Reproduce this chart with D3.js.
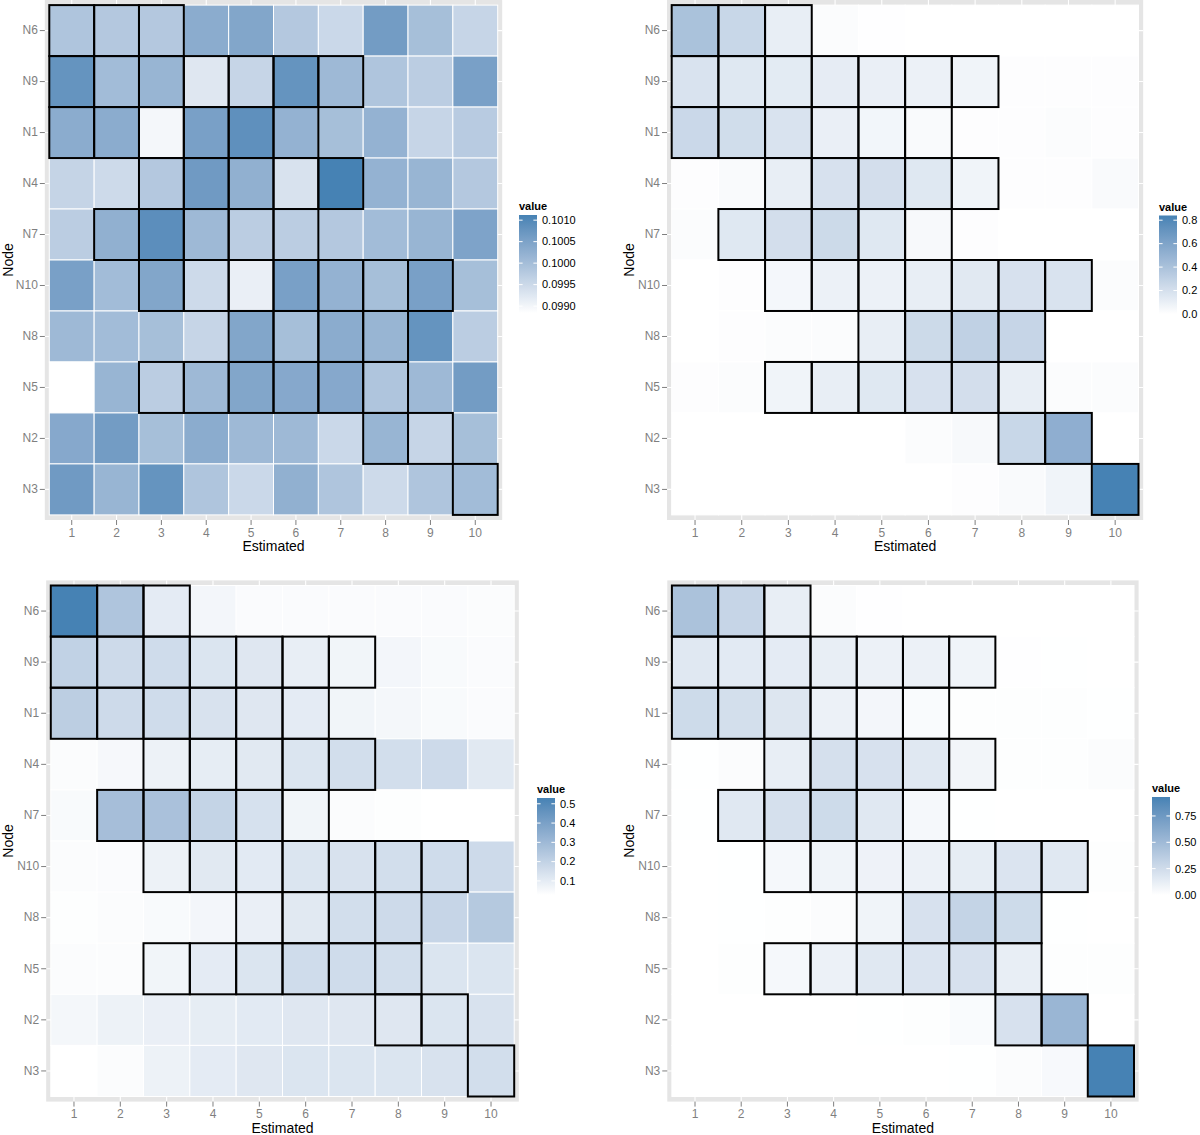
<!DOCTYPE html>
<html><head><meta charset="utf-8">
<script src="https://cdn.jsdelivr.net/npm/d3@7"></script>
<style>
body{margin:0;background:#fff}
text{font-family:"Liberation Sans",Arial,Helvetica,sans-serif}
</style>
</head><body>
<svg id="chart" width="1200" height="1135"></svg>
<script>
// ---------- DATA ----------
const nodes = ["N6","N9","N1","N4","N7","N10","N8","N5","N2","N3"];
const estimated = [1,2,3,4,5,6,7,8,9,10];

// rows follow `nodes`, columns follow `estimated`
const valuesTopLeft = [
  [0.09987,0.09980,0.09980,0.10032,0.10044,0.09980,0.09952,0.10062,0.09998,0.09957],
  [0.10078,0.10003,0.10016,0.09925,0.09957,0.10078,0.10009,0.09987,0.09971,0.10055],
  [0.10032,0.10032,0.09898,0.10055,0.10085,0.10021,0.09998,0.10021,0.09957,0.09975],
  [0.09959,0.09948,0.09980,0.10066,0.10025,0.09934,0.10112,0.10021,0.10016,0.09980],
  [0.09971,0.10025,0.10089,0.10009,0.09971,0.09971,0.09980,0.10003,0.10016,0.10048],
  [0.10055,0.10003,0.10044,0.09948,0.09911,0.10055,0.10021,0.09998,0.10055,0.09998],
  [0.10009,0.10003,0.09998,0.09957,0.10044,0.09998,0.10032,0.10016,0.10078,0.09971],
  [0.09884,0.10016,0.09971,0.10009,0.10044,0.10039,0.10039,0.09987,0.10009,0.10062],
  [0.10039,0.10062,0.09998,0.10032,0.10009,0.10009,0.09952,0.10016,0.09957,0.09998],
  [0.10066,0.10016,0.10078,0.09987,0.09952,0.10025,0.09987,0.09948,0.09987,0.10003]
];
const valuesTopRight = [
  [0.40,0.26,0.11,0.02,0.005,0.002,0.001,0.001,0.001,0.001],
  [0.18,0.15,0.13,0.12,0.10,0.09,0.07,0.01,0.01,0.01],
  [0.25,0.22,0.18,0.10,0.06,0.03,0.01,0.01,0.02,0.01],
  [0.01,0.03,0.11,0.19,0.21,0.15,0.07,0.01,0.01,0.03],
  [0.02,0.15,0.21,0.24,0.15,0.04,0.01,0.002,0.002,0.002],
  [0.002,0.01,0.05,0.09,0.09,0.11,0.14,0.19,0.18,0.02],
  [0.002,0.01,0.02,0.02,0.11,0.24,0.30,0.27,0.002,0.002],
  [0.01,0.02,0.07,0.11,0.15,0.19,0.21,0.11,0.02,0.02],
  [0,0,0,0,0.002,0.02,0.04,0.26,0.53,0.002],
  [0,0,0,0,0,0.002,0.01,0.03,0.07,0.84]
];
const valuesBottomLeft = [
  [0.530,0.253,0.102,0.062,0.042,0.042,0.042,0.042,0.042,0.037],
  [0.203,0.168,0.163,0.128,0.118,0.092,0.067,0.062,0.047,0.042],
  [0.218,0.168,0.163,0.138,0.118,0.102,0.067,0.057,0.047,0.042],
  [0.037,0.052,0.077,0.097,0.113,0.128,0.153,0.153,0.168,0.113],
  [0.047,0.279,0.268,0.193,0.143,0.067,0.037,0.032,0.027,0.027],
  [0.037,0.042,0.077,0.113,0.108,0.128,0.138,0.153,0.163,0.168],
  [0.032,0.037,0.047,0.062,0.087,0.113,0.153,0.168,0.188,0.238],
  [0.037,0.037,0.067,0.102,0.128,0.163,0.163,0.153,0.128,0.128],
  [0.057,0.077,0.087,0.097,0.108,0.118,0.118,0.118,0.128,0.138],
  [0.028,0.037,0.077,0.102,0.118,0.128,0.128,0.128,0.138,0.153]
];
const valuesBottomRight = [
  [0.44,0.30,0.12,0.02,0.005,0.002,0.001,0.001,0.001,0.001],
  [0.16,0.15,0.14,0.12,0.10,0.10,0.08,0.005,0.003,0.002],
  [0.26,0.23,0.18,0.10,0.06,0.03,0.01,0.01,0.01,0.003],
  [0.003,0.02,0.12,0.22,0.21,0.16,0.07,0.01,0.01,0.02],
  [0.003,0.16,0.22,0.26,0.16,0.05,0.003,0.002,0.002,0.002],
  [0.002,0.003,0.05,0.08,0.09,0.10,0.13,0.19,0.16,0.01],
  [0.002,0.003,0.01,0.02,0.08,0.21,0.31,0.26,0.003,0.002],
  [0.002,0.01,0.05,0.10,0.16,0.19,0.21,0.12,0.01,0.01],
  [0,0,0,0,0.003,0.01,0.03,0.21,0.53,0.002],
  [0,0,0,0,0,0.002,0.003,0.02,0.04,0.93]
];

// outlined (black-bordered) cells: estimated columns per node row
const outlinedCols = [
  [1,2,3],
  [1,2,3,4,5,6,7],
  [1,2,3,4,5,6],
  [3,4,5,6,7],
  [2,3,4,5,6],
  [3,4,5,6,7,8,9],
  [5,6,7,8],
  [3,4,5,6,7,8],
  [8,9],
  [10]
];

const breaksTopLeft = [0.0990,0.0995,0.1000,0.1005,0.1010];
const labelsTopLeft = ["0.0990","0.0995","0.1000","0.1005","0.1010"];
const breaksTopRight = [0.0,0.2,0.4,0.6,0.8];
const labelsTopRight = ["0.0","0.2","0.4","0.6","0.8"];
const breaksBottomLeft = [0.1,0.2,0.3,0.4,0.5];
const labelsBottomLeft = ["0.1","0.2","0.3","0.4","0.5"];
const breaksBottomRight = [0.0,0.25,0.5,0.75];
const labelsBottomRight = ["0.00","0.25","0.50","0.75"];

const xTitle = "Estimated", yTitle = "Node", legendTitle = "value";

// ---------- LAYOUT ----------
const panels = [
  {values: valuesTopLeft, breaks: breaksTopLeft, labels: labelsTopLeft,
   tx:[49.3,497.7], ty:[5.1,514.9], bar:{x:519, top:215, h:98}, nodeX:13},
  {values: valuesTopRight, breaks: breaksTopRight, labels: labelsTopRight,
   tx:[671.7,1138.5], ty:[5.1,514.9], bar:{x:1159, top:215.5, h:98.5}, nodeX:634},
  {values: valuesBottomLeft, breaks: breaksBottomLeft, labels: labelsBottomLeft,
   tx:[50.8,514.2], ty:[585.5,1096.5], bar:{x:537, top:798, h:97}, nodeX:13},
  {values: valuesBottomRight, breaks: breaksBottomRight, labels: labelsBottomRight,
   tx:[671.9,1134], ty:[585.5,1096.5], bar:{x:1152, top:797, h:98}, nodeX:634}
];

const svg = d3.select("#chart");
const defs = svg.append("defs");
const lowCol = "#FFFFFF", highCol = "steelblue";

panels.forEach((p, pi) => {
  const g = svg.append("g");
  const x = d3.scaleBand().domain(estimated).range(p.tx).padding(0);
  const y = d3.scaleBand().domain(nodes).range(p.ty).padding(0);
  const bwx = x.bandwidth(), bwy = y.bandwidth();
  const px0 = p.tx[0] - 0.1*bwx, px1 = p.tx[1] + 0.1*bwx;
  const py0 = p.ty[0] - 0.1*bwy, py1 = p.ty[1] + 0.1*bwy;

  const flat = [];
  p.values.forEach((row, ri) => row.forEach((v, ci) =>
    flat.push({node: nodes[ri], est: estimated[ci], v})));
  const ext = d3.extent(flat, d => d.v);
  const color = d3.scaleLinear().domain(ext).range([lowCol, highCol])
    .interpolate(d3.interpolateLab);

  // panel background
  g.append("rect").attr("x", px0).attr("y", py0)
    .attr("width", px1 - px0).attr("height", py1 - py0).attr("fill", "#E5E5E5");
  // grid lines
  g.selectAll(".gx").data(estimated).enter().append("line")
    .attr("x1", d => x(d) + bwx/2).attr("x2", d => x(d) + bwx/2)
    .attr("y1", py0).attr("y2", py1).attr("stroke", "#fff").attr("stroke-width", 1.1);
  g.selectAll(".gy").data(nodes).enter().append("line")
    .attr("y1", d => y(d) + bwy/2).attr("y2", d => y(d) + bwy/2)
    .attr("x1", px0).attr("x2", px1).attr("stroke", "#fff").attr("stroke-width", 1.1);

  // tiles
  g.selectAll(".tile").data(flat).enter().append("rect")
    .attr("x", d => x(d.est)).attr("y", d => y(d.node))
    .attr("width", bwx).attr("height", bwy)
    .attr("fill", d => color(d.v)).attr("stroke", "#fff").attr("stroke-width", 1);

  // outlines
  const outl = [];
  outlinedCols.forEach((cols, ri) => cols.forEach(c => outl.push({node: nodes[ri], est: c})));
  g.selectAll(".ol").data(outl).enter().append("rect")
    .attr("x", d => x(d.est)).attr("y", d => y(d.node))
    .attr("width", bwx).attr("height", bwy)
    .attr("fill", "none").attr("stroke", "#000").attr("stroke-width", 2);

  // axes
  const ax = g.append("g").attr("transform", `translate(0,${py1})`)
    .call(d3.axisBottom(x).tickSize(5).tickPadding(3));
  const ay = g.append("g").attr("transform", `translate(${px0},0)`)
    .call(d3.axisLeft(y).tickSize(5).tickPadding(2));
  [ax, ay].forEach(a => {
    a.select(".domain").remove();
    a.selectAll(".tick line").attr("stroke", "#7F7F7F");
    a.selectAll(".tick text").attr("fill", "#7F7F7F")
      .style("font-size", "12px").style("font-family", '"Liberation Sans",Arial,sans-serif');
  });

  // axis titles
  g.append("text").attr("x", (px0 + px1)/2).attr("y", py1 + 31)
    .attr("text-anchor", "middle").style("font-size", "14px").attr("fill", "#000").text(xTitle);
  g.append("text").attr("transform", `translate(${p.nodeX},${(py0 + py1)/2}) rotate(-90)`)
    .attr("text-anchor", "middle").style("font-size", "14px").attr("fill", "#000").text(yTitle);

  // legend colourbar
  const b = p.bar, bw = 18;
  const ls = d3.scaleLinear().domain(ext).range([b.top + b.h, b.top]);
  const gid = "grad" + pi;
  const grad = defs.append("linearGradient").attr("id", gid)
    .attr("x1", 0).attr("y1", 1).attr("x2", 0).attr("y2", 0);
  d3.range(21).forEach(i => {
    const t = i/20;
    grad.append("stop").attr("offset", t).attr("stop-color", color(ext[0] + t*(ext[1]-ext[0])));
  });
  g.append("text").attr("x", b.x).attr("y", b.top - 5)
    .style("font-size", "11px").style("font-weight", "bold").attr("fill", "#000").text(legendTitle);
  g.append("rect").attr("x", b.x).attr("y", b.top).attr("width", bw).attr("height", b.h)
    .attr("fill", `url(#${gid})`);
  const brk = p.breaks.map((v, i) => ({v, l: p.labels[i]}))
    .filter(d => d.v >= ext[0] - 1e-9 && d.v <= ext[1] + 1e-9);
  brk.forEach(d => {
    const yy = ls(d.v);
    g.append("line").attr("x1", b.x).attr("x2", b.x + 3.6).attr("y1", yy).attr("y2", yy)
      .attr("stroke", "#fff").attr("stroke-width", 1);
    g.append("line").attr("x1", b.x + bw - 3.6).attr("x2", b.x + bw).attr("y1", yy).attr("y2", yy)
      .attr("stroke", "#fff").attr("stroke-width", 1);
    g.append("text").attr("x", b.x + bw + 5).attr("y", yy).attr("dy", "0.35em")
      .style("font-size", "11px").attr("fill", "#000").text(d.l);
  });
});
</script>
</body></html>
